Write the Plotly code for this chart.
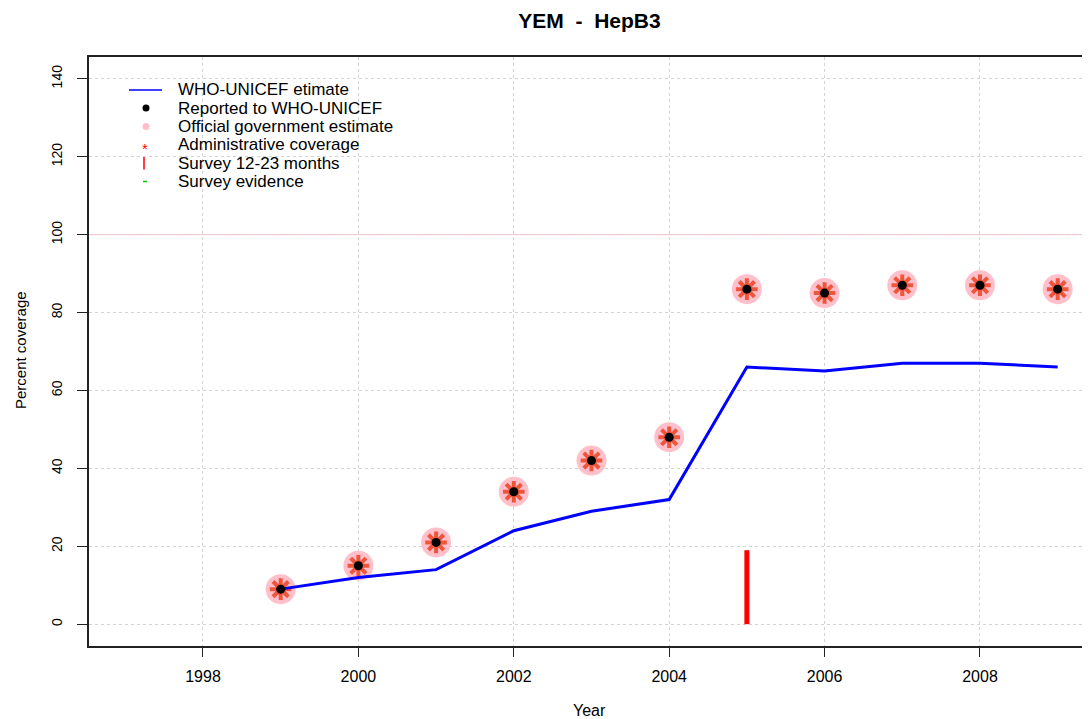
import plotly.graph_objects as go

# ---- data ----
years = [1999, 2000, 2001, 2002, 2003, 2004, 2005, 2006, 2007, 2008, 2009]
who_unicef_estimate = [9, 12, 14, 24, 29, 32, 66, 65, 67, 67, 66]
reported = [9, 15, 21, 34, 42, 48, 86, 85, 87, 87, 86]
official_estimate = [9, 15, 21, 34, 42, 48, 86, 85, 87, 87, 86]
administrative = [9, 15, 21, 34, 42, 48, 86, 85, 87, 87, 86]
survey_years = [2005]
survey_values = [19]
target_line = 100
x_ticks = [1998, 2000, 2002, 2004, 2006, 2008]
y_ticks = [0, 20, 40, 60, 80, 100, 120, 140]
legend_labels = ["WHO-UNICEF etimate", "Reported to WHO-UNICEF", "Official government estimate",
                 "Administrative coverage", "Survey 12-23 months", "Survey evidence"]

# ---- layout geometry (page pixels) ----
OFF = 8  # default body margin of the html page
W, H = 1090 - OFF, 719 - OFF
L, R, T, B = 89, 1090, 57, 646
PW, PH = R - L, B - T

def px(x):
    return (x - L) / PW

def py(y):
    return (B - y) / PH

fig = go.Figure()

# pink official estimate circles
fig.add_trace(go.Scatter(x=years, y=official_estimate, mode="markers",
                         marker=dict(symbol="circle", size=30, color="#FFC0CB"),
                         showlegend=False, hoverinfo="skip"))
# red administrative asterisks
fig.add_trace(go.Scatter(x=years, y=administrative, mode="markers",
                         marker=dict(symbol="asterisk-open", size=18,
                                     line=dict(color="#FF0000", width=4)),
                         showlegend=False, hoverinfo="skip"))
# survey bars
for sy, sv in zip(survey_years, survey_values):
    fig.add_trace(go.Scatter(x=[sy, sy], y=[0, sv], mode="lines",
                             line=dict(color="red", width=5),
                             showlegend=False, hoverinfo="skip"))
# WHO-UNICEF estimate line
fig.add_trace(go.Scatter(x=years, y=who_unicef_estimate, mode="lines",
                         line=dict(color="blue", width=3),
                         showlegend=False, hoverinfo="skip"))
# reported black dots
fig.add_trace(go.Scatter(x=years, y=reported, mode="markers",
                         marker=dict(symbol="circle", size=9, color="black"),
                         showlegend=False, hoverinfo="skip"))

shapes = []
# 100% reference line
shapes.append(dict(type="line", xref="paper", x0=0, x1=1, yref="y", y0=target_line, y1=target_line,
                   line=dict(color="#FFC0CB", width=1), layer="below"))

# ---- custom legend ----
rows = [90, 108, 126.5, 144.5, 163, 181.5]
shapes.append(dict(type="line", xref="paper", yref="paper", x0=px(129), x1=px(162),
                   y0=py(rows[0]), y1=py(rows[0]), line=dict(color="blue", width=1.5)))
r = 3.5
shapes.append(dict(type="circle", xref="paper", yref="paper",
                   x0=px(146 - r), x1=px(146 + r), y0=py(rows[1] + r), y1=py(rows[1] - r),
                   fillcolor="black", line=dict(width=0)))
shapes.append(dict(type="circle", xref="paper", yref="paper",
                   x0=px(146 - r), x1=px(146 + r), y0=py(rows[2] + r), y1=py(rows[2] - r),
                   fillcolor="#FFC0CB", line=dict(width=0)))
shapes.append(dict(type="line", xref="paper", yref="paper", x0=px(144), x1=px(144),
                   y0=py(157), y1=py(169.5), line=dict(color="red", width=1.5)))
shapes.append(dict(type="line", xref="paper", yref="paper", x0=px(143), x1=px(147),
                   y0=py(rows[5]), y1=py(rows[5]), line=dict(color="#00CC00", width=1.5)))

annotations = []
for lab, ry in zip(legend_labels, rows):
    annotations.append(dict(text=lab, xref="paper", yref="paper", x=px(176), y=py(ry),
                            xanchor="left", yanchor="middle", showarrow=False,
                            font=dict(family="Liberation Sans, Arial", size=17, color="black")))
annotations.append(dict(text="*", xref="paper", yref="paper", x=px(145), y=py(rows[3] + 4),
                        xanchor="center", yanchor="middle", showarrow=False,
                        font=dict(family="Liberation Sans, Arial", size=15, color="red")))
# axis titles
annotations.append(dict(text="Year", xref="paper", yref="paper", x=0.5, y=py(710),
                        xanchor="center", yanchor="middle", showarrow=False,
                        font=dict(family="Liberation Sans, Arial", size=16, color="black")))
annotations.append(dict(text="Percent coverage", xref="paper", yref="paper", x=px(20), y=py(350),
                        xanchor="center", yanchor="middle", showarrow=False, textangle=-90,
                        font=dict(family="Liberation Sans Narrow, Liberation Sans, Arial", size=15, color="black")))

fig.update_layout(
    width=W, height=H,
    margin=dict(l=L - OFF, r=0, t=T - OFF, b=H - (B - OFF), pad=0),
    paper_bgcolor="white", plot_bgcolor="white",
    title=dict(text="YEM\u00a0\u00a0-\u00a0\u00a0HepB3", x=0.5, xref="paper", xanchor="center",
               y=1 - (21 - OFF) / H, yanchor="middle",
               font=dict(family="Liberation Sans, Arial", size=21, color="black", weight="bold")),
    shapes=shapes, annotations=annotations,
    showlegend=False,
    xaxis=dict(range=[1996.533, 2009.416], tickvals=x_ticks, ticktext=[str(v) for v in x_ticks],
               showgrid=True, gridcolor="#D3D3D3", griddash="dot", gridwidth=1,
               zeroline=False, showline=True, mirror=True, linecolor="#222222", linewidth=1.5,
               ticks="outside", ticklen=9, tickcolor="#222222", tickwidth=1,
               ticklabelstandoff=6,
               tickfont=dict(family="Liberation Sans, Arial", size=16, color="black")),
    yaxis=dict(range=[-5.6, 145.6], tickvals=y_ticks, ticktext=[str(v) for v in y_ticks],
               showgrid=True, gridcolor="#D3D3D3", griddash="dot", gridwidth=1,
               zeroline=False, showline=True, mirror=False, linecolor="#222222", linewidth=1.5,
               ticks="outside", ticklen=10, tickcolor="#222222", tickwidth=1,
               tickangle=-90, ticklabelstandoff=10,
               tickfont=dict(family="Liberation Sans Narrow, Liberation Sans, Arial", size=14, color="black")),
)

fig.write_html("out.html")
